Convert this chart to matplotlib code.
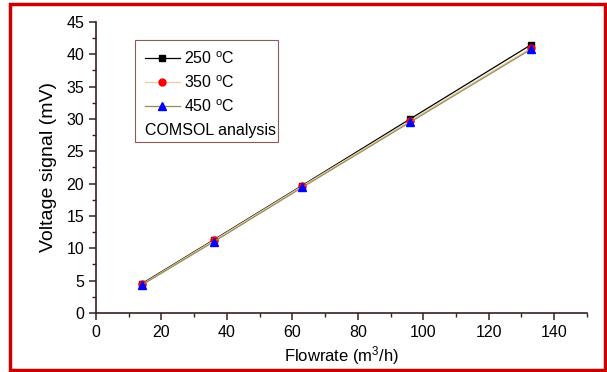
import matplotlib
matplotlib.use("Agg")
import matplotlib.pyplot as plt
from matplotlib.patches import Rectangle

plt.rcParams["font.family"] = ["Liberation Sans", "DejaVu Sans"]
plt.rcParams["mathtext.fontset"] = "custom"
plt.rcParams["mathtext.rm"] = "Liberation Sans"
plt.rcParams["mathtext.it"] = "Liberation Sans:italic"

flowrate = [14, 36, 63, 96, 133]
v250 = [4.5, 11.3, 19.7, 30.0, 41.5]
v350 = [4.4, 11.2, 19.6, 29.7, 41.0]
v450 = [4.3, 11.0, 19.4, 29.5, 40.8]

axis_col = "#3a1f1f"

fig = plt.figure(figsize=(6.07, 3.72), dpi=100)
ax = fig.add_axes([0.158, 0.159, 0.809, 0.782])

ax.plot(flowrate, v250, color="black", lw=0.9, marker="s", ms=5,
        mfc="black", mec="black", label=r"250 $^{\rm o}$C")
ax.plot(flowrate, v350, color="#f2c9a0", lw=0.9, marker="o", ms=5,
        mfc="red", mec="red", label=r"350 $^{\rm o}$C")
ax.plot(flowrate, v450, color="#8f8f5a", lw=0.9, marker="^", ms=5.5,
        mfc="blue", mec="blue", label=r"450 $^{\rm o}$C")

ax.set_xlim(0, 150)
ax.set_ylim(0, 45)
ax.set_xticks(range(0, 141, 20))
ax.set_xticks(range(0, 151, 10), minor=True)
ax.set_yticks(range(0, 46, 5))
ax.set_yticks([i * 2.5 for i in range(19)], minor=True)

for s in ["top", "right"]:
    ax.spines[s].set_visible(False)
for s in ["left", "bottom"]:
    ax.spines[s].set_color(axis_col)
    ax.spines[s].set_linewidth(1.2)
ax.tick_params(which="major", direction="out", length=5, width=1.1,
               color=axis_col, labelsize=11.5)
ax.tick_params(which="minor", direction="out", length=3, width=1.0,
               color=axis_col)

ax.set_xlabel(r"Flowrate (m$^3$/h)", fontsize=12, labelpad=3)
ax.set_ylabel("Voltage signal (mV)", fontsize=14, labelpad=7)

leg = ax.legend(loc="upper left", bbox_to_anchor=(0.0868, 0.924), frameon=False,
                fontsize=11.5, handlelength=2.2, handletextpad=0.25,
                labelspacing=0.45, borderaxespad=0)
ax.text(0.0998, 0.6254, "COMSOL analysis", transform=ax.transAxes,
        fontsize=11.5, va="center", ha="left")
ax.add_patch(Rectangle((0.0794, 0.588), 0.2913, 0.350, transform=ax.transAxes,
                       fill=False, ec="#8b5a5a", lw=0.8))

fig.patches.append(Rectangle((10 / 607, 2 / 372), 595 / 607, 366 / 372,
                             transform=fig.transFigure, fill=False,
                             ec="#cc0000", lw=2.5))

fig.savefig("out.png", dpi=100)
plt.close(fig)
